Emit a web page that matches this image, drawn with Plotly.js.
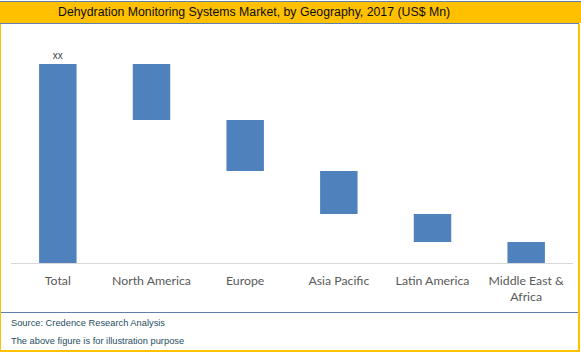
<!DOCTYPE html>
<html><head><meta charset="utf-8">
<script src="https://cdn.plot.ly/plotly-3.0.1.min.js"></script>
<style>html,body{margin:0;padding:0;background:#fff}#c{width:581px;height:352px}</style>
</head><body><div id="c"></div>
<script>
const categories = ["Total","North America","Europe","Asia Pacific","Latin America","Middle East &<br>Africa"];
const measures = ["absolute","relative","relative","relative","relative","relative"];
const values = [199,-56,-51,-43,-28,-21];
const labels = ["xx","","","","",""];
const titleText = "Dehydration Monitoring Systems Market, by Geography, 2017 (US$ Mn)";
const notes = ["Source: Credence Research Analysis","The above figure is for illustration purpose"];

const W=581,H=352,L=11,R=8,T=30,B=89;
const pw=W-L-R, ph=H-T-B;
const px=x=>(x-L)/pw, py=y=>(H-B-y)/ph;
const gold="#FFC000", blue="#4F81BD", line="#5E81AC";
function rect(x0,y0,x1,y1,fill){return {type:"rect",xref:"paper",yref:"paper",x0:px(x0),x1:px(x1),y0:py(y1),y1:py(y0),fillcolor:fill,line:{width:0},layer:"below"};}
const shapes=[
 rect(0,1,581,2,line), rect(0,2,581,23,gold), rect(0,23,579,24,line),
 rect(0,24,1,352,gold), rect(578,24,580,352,gold), rect(0,350,580,352,gold),
 rect(1,312,578,313,line)
];
const trace={type:"waterfall",x:categories,measure:measures,y:values,
 text:labels,textposition:"outside",textfont:{family:"Liberation Sans, Arial",size:10,color:"#404040"},
 cliponaxis:false,
 increasing:{marker:{color:blue}},decreasing:{marker:{color:blue}},totals:{marker:{color:blue}},
 connector:{visible:false},width:0.4,hoverinfo:"none"};
const layout={width:W,height:H,margin:{l:L,r:R,t:T,b:B},paper_bgcolor:"#fff",plot_bgcolor:"#fff",showlegend:false,
 xaxis:{showgrid:false,showline:true,linecolor:"#D9D9D9",linewidth:1,ticks:"outside",ticklen:6,tickcolor:"rgba(0,0,0,0)",
   tickfont:{family:"Lato, Open Sans, sans-serif",size:12.3,color:"#595959"},fixedrange:true},
 yaxis:{range:[0,233],visible:false,showgrid:false,zeroline:false,fixedrange:true},
 shapes:shapes,
 annotations:[
  {xref:"paper",yref:"paper",x:px(253.5),y:py(12.5),text:titleText,showarrow:false,xanchor:"center",yanchor:"middle",
   font:{family:"Liberation Sans, Arial",size:12.3,color:"#0d0d0d"}},
  {xref:"paper",yref:"paper",x:px(9),y:py(323),text:notes[0],showarrow:false,xanchor:"left",yanchor:"middle",
   font:{family:"Liberation Sans, Arial",size:9.3,color:"#1F4E5F"}},
  {xref:"paper",yref:"paper",x:px(9),y:py(341),text:notes[1],showarrow:false,xanchor:"left",yanchor:"middle",
   font:{family:"Liberation Sans, Arial",size:9.3,color:"#1F4E5F"}}
 ]};
Plotly.newPlot("c",[trace],layout,{displayModeBar:false,staticPlot:true});
</script></body></html>
